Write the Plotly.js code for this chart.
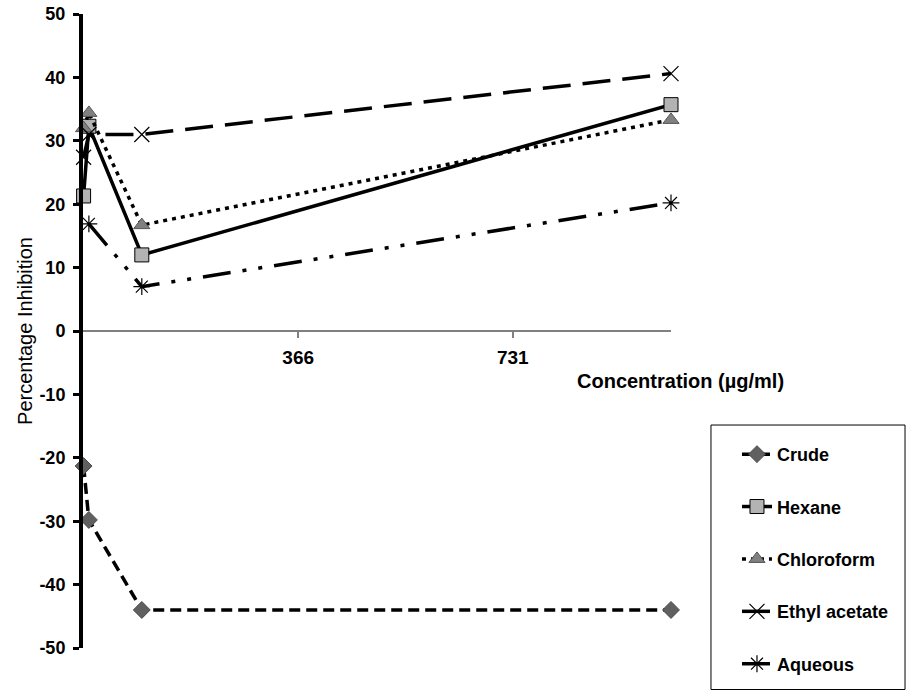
<!DOCTYPE html>
<html>
<head>
<meta charset="utf-8">
<script src="https://cdn.plot.ly/plotly-3.0.1.min.js"></script>
<style>html,body{margin:0;padding:0;background:#fff;}#chart{width:908px;height:690px;}</style>
</head>
<body>
<div id="chart"></div>
<script>
// Data
const concentration = [1, 10, 100, 1000];
const crude        = [-21.3, -29.8, -44.0, -44.0];
const hexane       = [21.3, 32.3, 12.0, 35.7];
const chloroform   = [32.0, 34.4, 16.7, 33.3];
const ethylAcetate = [27.4, 31.0, 31.0, 40.6];
const aqueousX     = [10, 100, 1000];
const aqueous      = [16.9, 7.0, 20.2];
const xTickVals    = [366, 731];
const xTickText    = ['366', '731'];
const yTickVals    = [50, 40, 30, 20, 10, 0, -10, -20, -30, -40, -50];
const yTickText    = ['50', '40', '30', '20', '10', '0', '-10', '-20', '-30', '-40', '-50'];
const seriesNames  = ['Crude', 'Hexane', 'Chloroform', 'Ethyl acetate', 'Aqueous'];

const FONT = 'Liberation Sans, Arial, sans-serif';

const traces = [
  {x: concentration, y: crude, name: seriesNames[0], legendgroup: 'a',
   mode: 'lines+markers', cliponaxis: false,
   line: {color: '#000', width: 3.5, dash: '11px,6px'},
   marker: {symbol: 'diamond', size: 13, color: '#606060', line: {color: '#4a4a4a', width: 1}}},
  {x: concentration, y: hexane, name: seriesNames[1], legendgroup: 'b',
   mode: 'lines+markers', cliponaxis: false,
   line: {color: '#000', width: 3.5},
   marker: {symbol: 'square', size: 14, color: '#b3b3b3', line: {color: '#000', width: 1}}},
  {x: concentration, y: chloroform, name: seriesNames[2], legendgroup: 'c',
   mode: 'lines+markers', cliponaxis: false,
   line: {color: '#000', width: 3.5, dash: '4px,5px'},
   marker: {symbol: 'triangle-up', size: 14, color: '#808080', line: {color: '#555', width: 1}}},
  {x: concentration, y: ethylAcetate, name: seriesNames[3], legendgroup: 'd',
   mode: 'lines+markers', cliponaxis: false,
   line: {color: '#000', width: 3.5, dash: '28px,12px'},
   marker: {symbol: 'x-thin-open', size: 15, color: '#000', line: {color: '#000', width: 1.2}}},
  {x: aqueousX, y: aqueous, name: seriesNames[4], legendgroup: 'e',
   mode: 'lines+markers', cliponaxis: false,
   line: {color: '#000', width: 3.5, dash: '28px,12px,4px,12px,4px,12px'},
   marker: {symbol: 'asterisk-open', size: 14, color: '#000', line: {color: '#000', width: 1.2}}}
];

const layout = {
  width: 908, height: 690,
  margin: {l: 83, r: 237, t: 14, b: 42, pad: 0, autoexpand: false},
  paper_bgcolor: '#fff', plot_bgcolor: '#fff',
  font: {family: FONT, color: '#000'},
  showlegend: true,
  xaxis: {
    range: [0, 1000], anchor: 'free', position: 0.5, automargin: false,
    showgrid: false, zeroline: false,
    showline: true, linecolor: '#808080', linewidth: 2,
    tickmode: 'array', tickvals: xTickVals, ticktext: xTickText,
    ticks: 'outside', ticklen: 6, tickwidth: 2, tickcolor: '#808080',
    ticklabelstandoff: 3,
    tickfont: {family: FONT, size: 19, weight: 'bold', color: '#000'}
  },
  yaxis: {
    range: [-50, 50], tickmode: 'array', tickvals: yTickVals, ticktext: yTickText,
    automargin: false,
    showgrid: false, zeroline: false,
    showline: true, linecolor: '#000', linewidth: 4,
    ticks: 'outside', ticklen: 6, tickwidth: 3, tickcolor: '#000',
    ticklabelstandoff: 4,
    tickfont: {family: FONT, size: 18, weight: 'bold', color: '#000'},
    title: {text: 'Percentage Inhibition', font: {family: FONT, size: 20, color: '#000'}, standoff: 2}
  },
  legend: {
    x: 1.1122, xanchor: 'left', y: 0.3345, yanchor: 'top',
    borderwidth: 0, bgcolor: 'rgba(0,0,0,0)',
    font: {family: FONT, size: 18, weight: 'bold', color: '#000'},
    tracegroupgap: 26, traceorder: 'grouped'
  },
  shapes: [
    {type: 'rect', xref: 'paper', yref: 'paper', x0: 1.068, x1: 1.398, y0: -0.0655, y1: 0.3517,
     line: {color: '#000', width: 1}, fillcolor: 'rgba(0,0,0,0)', layer: 'below'}
  ],
  annotations: [
    {text: 'Concentration (µg/ml)', xref: 'paper', yref: 'paper',
     x: 0.836, y: 0.421, xanchor: 'left', yanchor: 'middle', showarrow: false,
     font: {family: FONT, size: 20, weight: 'bold', color: '#000'}}
  ]
};

Plotly.newPlot('chart', traces, layout, {displayModeBar: false, staticPlot: true});
</script>
</body>
</html>
